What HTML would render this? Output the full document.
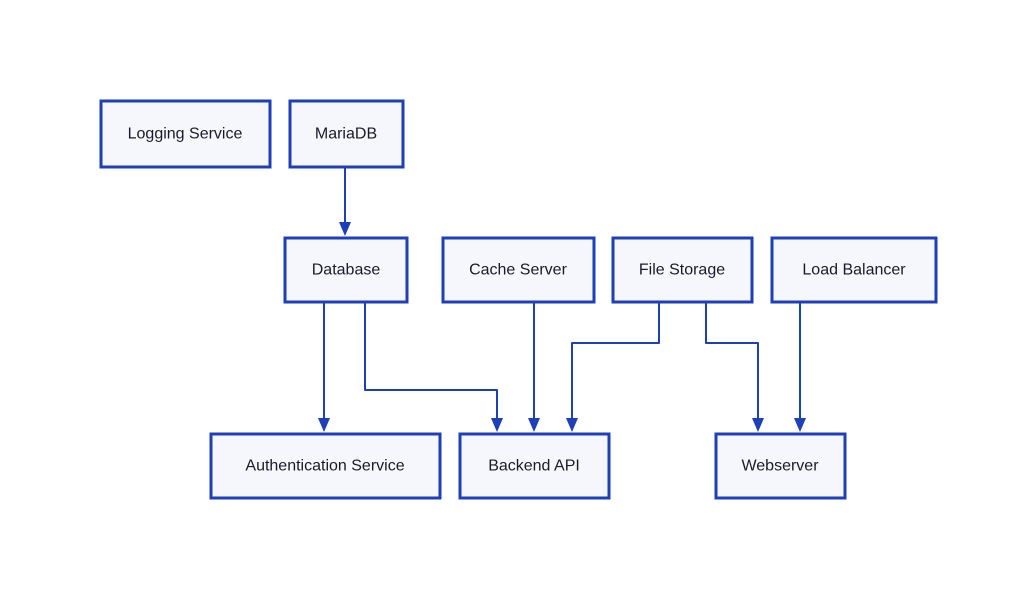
<!DOCTYPE html>
<html><head><meta charset="utf-8"><style>
html,body{margin:0;padding:0;background:#fff;}
svg{display:block;}
text{font-family:"Liberation Sans",sans-serif;font-size:16px;fill:#1a1a2a;text-anchor:middle;dominant-baseline:central;}
.b{fill:#f6f7fd;stroke:#1d3fb8;stroke-width:3;}
.l{fill:none;stroke:#1d3fb8;stroke-width:2;stroke-linejoin:round;}
.a{fill:#1d3fb8;}
</style></head><body>
<svg width="1036" height="600" viewBox="0 0 1036 600">
<rect class="b" x="101" y="101" width="169" height="66"/><text x="185" y="134">Logging Service</text>
<rect class="b" x="290" y="101" width="113" height="66"/><text x="346" y="134">MariaDB</text>
<rect class="b" x="285" y="238" width="122" height="64"/><text x="346" y="270">Database</text>
<rect class="b" x="443" y="238" width="151" height="64"/><text x="518" y="270">Cache Server</text>
<rect class="b" x="613" y="238" width="139" height="64"/><text x="682" y="270">File Storage</text>
<rect class="b" x="772" y="238" width="164" height="64"/><text x="854" y="270">Load Balancer</text>
<rect class="b" x="211" y="434" width="229" height="64"/><text x="325" y="466">Authentication Service</text>
<rect class="b" x="460" y="434" width="149" height="64"/><text x="534" y="466">Backend API</text>
<rect class="b" x="716" y="434" width="129" height="64"/><text x="780" y="466">Webserver</text>
<path class="l" d="M345 167V225"/><polygon class="a" points="339,222 351,222 345,236"/>
<path class="l" d="M324 302V420"/><polygon class="a" points="318,418 330,418 324,432"/>
<path class="l" d="M365 302V390H497V420"/><polygon class="a" points="491,418 503,418 497,432"/>
<path class="l" d="M534 302V420"/><polygon class="a" points="528,418 540,418 534,432"/>
<path class="l" d="M659 302V343H572V420"/><polygon class="a" points="566,418 578,418 572,432"/>
<path class="l" d="M706 302V343H758V420"/><polygon class="a" points="752,418 764,418 758,432"/>
<path class="l" d="M800 302V420"/><polygon class="a" points="794,418 806,418 800,432"/>
</svg>
</body></html>
